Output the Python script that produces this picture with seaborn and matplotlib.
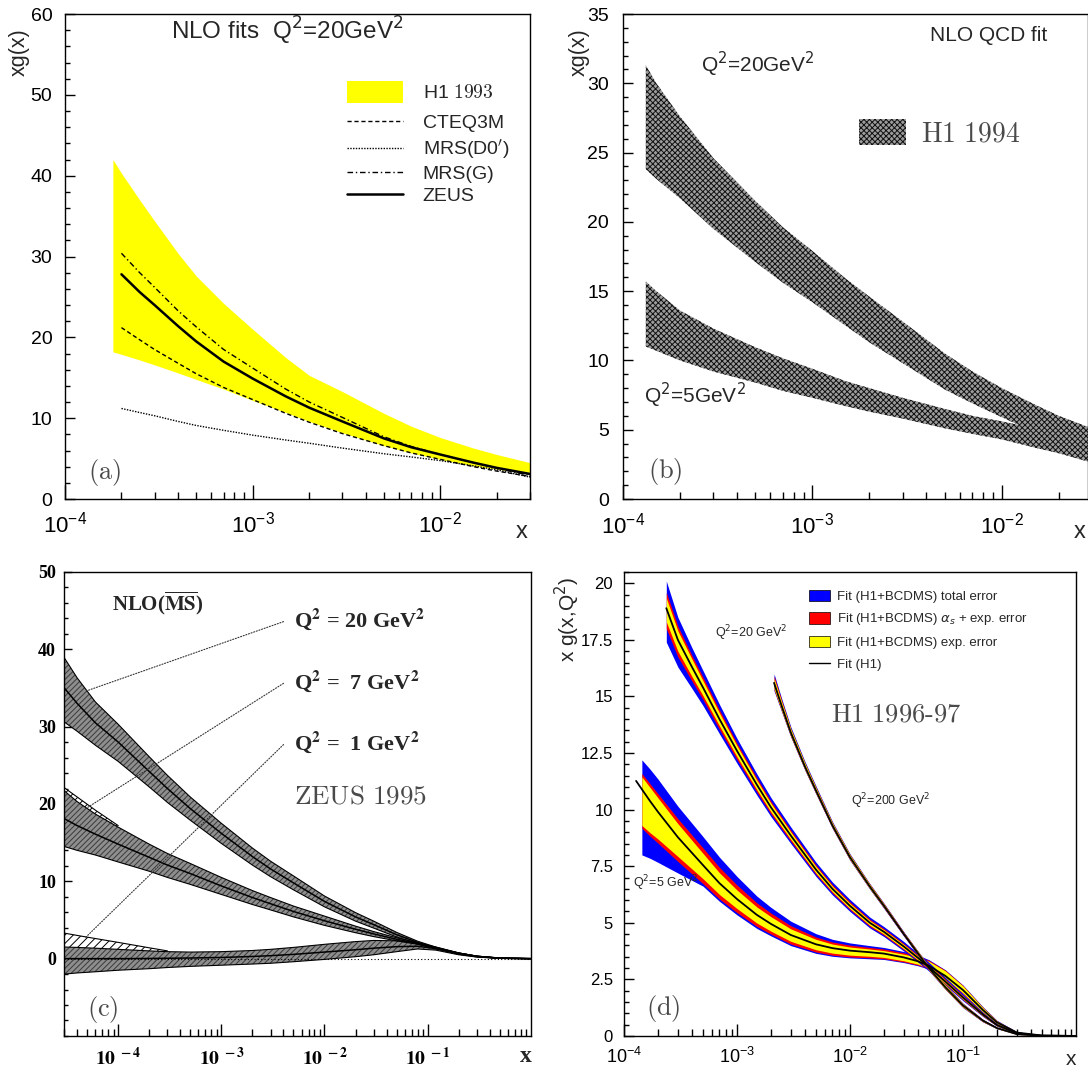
import numpy as np
import pandas as pd
import matplotlib
matplotlib.use("Agg")
import matplotlib.pyplot as plt
import seaborn as sns
from matplotlib.patches import Patch
from matplotlib.lines import Line2D
from matplotlib.ticker import (LogLocator, MultipleLocator, NullFormatter, FuncFormatter,
                               FixedLocator, LogFormatterSciNotation)

# ---------------- panel (a): NLO fits Q2=20 ----------------
a_band_x = [1.8e-4, 2e-4, 2.5e-4, 3e-4, 4e-4, 5e-4, 7e-4, 1e-3, 1.5e-3, 2e-3, 3e-3, 5e-3, 7e-3, 1e-2, 1.5e-2, 2e-2, 3e-2]
a_band_hi = [42.0, 40.3, 37.0, 34.4, 30.4, 27.6, 24.2, 21.0, 17.5, 15.3, 13.3, 10.6, 9.0, 7.6, 6.3, 5.5, 4.5]
a_band_lo = [18.2, 17.9, 17.2, 16.6, 15.6, 14.8, 13.6, 12.2, 10.7, 9.6, 8.2, 6.6, 5.7, 4.9, 4.1, 3.7, 3.1]
a_x = [2e-4, 2.5e-4, 3e-4, 4e-4, 5e-4, 7e-4, 1e-3, 1.5e-3, 2e-3, 3e-3, 5e-3, 7e-3, 1e-2, 1.5e-2, 2e-2, 3e-2]
a_zeus = [27.8, 25.6, 24.0, 21.4, 19.5, 17.0, 14.9, 12.7, 11.3, 9.6, 7.5, 6.4, 5.5, 4.5, 3.85, 3.1]
a_mrsg = [30.4, 28.0, 26.2, 23.3, 21.3, 18.5, 16.2, 13.6, 12.0, 10.1, 7.7, 6.5, 5.5, 4.5, 3.8, 2.9]
a_cteq = [21.2, 19.7, 18.5, 16.8, 15.5, 13.8, 12.3, 10.6, 9.5, 8.1, 6.6, 5.7, 4.9, 4.0, 3.45, 2.8]
a_mrsd0 = [11.2, 10.7, 10.3, 9.6, 9.1, 8.5, 7.9, 7.3, 6.9, 6.3, 5.6, 5.2, 4.75, 4.1, 3.6, 2.7]
a_labels = [r"H1 $\mathrm{1993}$", "CTEQ3M", "MRS(D0$'$)", "MRS(G)", "ZEUS"]

# ---------------- panel (b): H1 1994 ----------------
b_x = [1.32e-4, 1.5e-4, 2e-4, 3e-4, 5e-4, 7e-4, 1e-3, 1.5e-3, 2e-3, 3e-3, 5e-3, 7e-3, 1e-2, 1.5e-2, 2e-2, 2.85e-2]
b20_hi = [31.3, 30.0, 27.6, 24.6, 21.5, 19.6, 17.9, 15.9, 14.6, 12.8, 10.5, 9.2, 8.0, 6.8, 6.0, 5.2]
b20_lo = [23.8, 23.1, 21.7, 19.5, 17.1, 15.6, 14.2, 12.5, 11.3, 9.8, 7.9, 6.9, 5.9, 4.8, 4.0, 3.0]
b5_hi = [15.7, 15.0, 13.6, 12.3, 10.95, 10.15, 9.4, 8.5, 8.0, 7.3, 6.5, 6.0, 5.6, 5.1, 4.7, 4.2]
b5_lo = [11.0, 10.7, 10.0, 9.2, 8.4, 7.8, 7.3, 6.7, 6.3, 5.8, 5.1, 4.7, 4.3, 3.7, 3.3, 2.7]

# ---------------- panel (c): ZEUS 1995 ----------------
c_x = [3e-5, 4e-5, 6e-5, 1e-4, 2e-4, 3e-4, 5e-4, 1e-3, 2e-3, 3e-3, 5e-3, 1e-2, 2e-2, 3e-2, 5e-2, 0.08, 0.12, 0.2, 0.3, 0.5, 1.0]
c20_mid = [35.0, 33.0, 30.5, 28.0, 24.2, 22.0, 19.4, 16.2, 13.2, 11.6, 9.8, 7.4, 5.4, 4.4, 3.1, 2.1, 1.4, 0.7, 0.3, 0.06, 0.0]
c20_hi = [38.9, 36.3, 33.2, 30.3, 26.1, 23.7, 20.9, 17.5, 14.3, 12.6, 10.7, 8.1, 5.95, 4.85, 3.4, 2.25, 1.5, 0.75, 0.32, 0.07, 0.0]
c20_lo = [30.6, 29.4, 27.6, 25.5, 22.2, 20.2, 17.9, 14.9, 12.1, 10.6, 8.9, 6.7, 4.85, 3.95, 2.8, 1.95, 1.3, 0.65, 0.28, 0.05, 0.0]
c7_mid = [18.1, 17.2, 16.1, 14.8, 13.1, 12.1, 11.0, 9.4, 7.9, 7.1, 6.1, 4.9, 3.8, 3.2, 2.5, 1.95, 1.35, 0.7, 0.3, 0.06, 0.0]
c7_hi = [21.7, 20.3, 18.7, 17.0, 14.8, 13.6, 12.3, 10.5, 8.8, 7.9, 6.8, 5.5, 4.2, 3.5, 2.7, 2.05, 1.42, 0.73, 0.32, 0.07, 0.0]
c7_lo = [14.5, 14.0, 13.4, 12.5, 11.3, 10.5, 9.6, 8.3, 7.0, 6.3, 5.4, 4.3, 3.35, 2.85, 2.3, 1.85, 1.28, 0.67, 0.28, 0.05, 0.0]
c1_mid = [0.0, 0.0, 0.0, 0.0, 0.02, 0.05, 0.08, 0.15, 0.28, 0.38, 0.55, 0.85, 1.15, 1.35, 1.55, 1.6, 1.3, 0.6, 0.25, 0.05, 0.0]
c1_hi = [1.5, 1.45, 1.35, 1.2, 1.0, 0.9, 0.85, 0.9, 1.05, 1.2, 1.45, 1.85, 2.2, 2.35, 2.3, 2.0, 1.5, 0.7, 0.3, 0.06, 0.0]
c1_lo = [-2.0, -1.85, -1.7, -1.5, -1.3, -1.15, -1.0, -0.85, -0.7, -0.6, -0.4, -0.1, 0.25, 0.5, 0.9, 1.25, 1.1, 0.5, 0.2, 0.04, 0.0]
c1h_x = [3e-5, 4e-5, 6e-5, 1e-4, 2e-4, 3e-4]
c1h_hi = [3.3, 3.0, 2.6, 2.1, 1.4, 1.0]
c1h_lo = [1.5, 1.45, 1.35, 1.2, 1.0, 0.9]
c7h_x = [3e-5, 4e-5, 6e-5, 1e-4]
c7h_hi = [22.1, 20.9, 19.2, 17.2]
c7h_lo = [21.7, 20.3, 18.7, 17.0]
c_labels = ["Q$^{\\mathbf{2}}$ = 20 GeV$^{\\mathbf{2}}$", "Q$^{\\mathbf{2}}$ =  7 GeV$^{\\mathbf{2}}$",
            "Q$^{\\mathbf{2}}$ =  1 GeV$^{\\mathbf{2}}$"]

# ---------------- panel (d): H1 1996-97 ----------------
d5_x = [1.44e-4, 1.7e-4, 2e-4, 3e-4, 5e-4, 7e-4, 1e-3, 1.5e-3, 2e-3, 3e-3, 5e-3, 7e-3, 1e-2, 1.5e-2, 2e-2,
        3e-2, 4e-2, 5e-2, 7e-2, 0.1, 0.15, 0.2, 0.3, 0.5, 1.0]
d5_blue_hi = [12.2, 11.79, 11.35, 10.15, 8.81, 7.9, 7.05, 6.18, 5.68, 5.07, 4.52, 4.27, 4.11, 3.99, 3.91, 3.73, 3.57, 3.37, 2.92, 2.25, 1.29, 0.69, 0.19, 0.02, 0.0]
d5_red_hi = [11.6, 11.14, 10.7, 9.6, 8.31, 7.45, 6.67, 5.88, 5.43, 4.87, 4.37, 4.15, 4.01, 3.91, 3.84, 3.67, 3.52, 3.34, 2.9, 2.23, 1.27, 0.67, 0.18, 0.02, 0.0]
d5_yel_hi = [11.45, 10.98, 10.52, 9.38, 8.07, 7.21, 6.45, 5.7, 5.27, 4.73, 4.27, 4.06, 3.93, 3.84, 3.77, 3.61, 3.47, 3.3, 2.87, 2.21, 1.25, 0.66, 0.17, 0.02, 0.0]
d5_yel_lo = [9.3, 8.98, 8.7, 7.93, 6.95, 6.25, 5.63, 4.99, 4.63, 4.18, 3.81, 3.66, 3.57, 3.52, 3.47, 3.32, 3.17, 3.0, 2.53, 1.9, 1.05, 0.55, 0.13, 0.02, 0.0]
d5_red_lo = [9.18, 8.83, 8.52, 7.71, 6.73, 6.05, 5.45, 4.84, 4.5, 4.06, 3.71, 3.57, 3.49, 3.45, 3.41, 3.27, 3.13, 2.97, 2.5, 1.87, 1.03, 0.54, 0.12, 0.02, 0.0]
d5_blue_lo = [8.0, 7.85, 7.67, 7.2, 6.62, 5.95, 5.35, 4.75, 4.42, 3.99, 3.65, 3.52, 3.45, 3.41, 3.38, 3.24, 3.1, 2.95, 2.48, 1.85, 1.02, 0.53, 0.12, 0.02, 0.0]
d5_fit_x = [1.28e-4, 1.44e-4, 1.7e-4, 2e-4, 3e-4, 5e-4, 7e-4, 1e-3, 1.5e-3, 2e-3, 3e-3, 5e-3, 7e-3, 1e-2, 1.5e-2,
            2e-2, 3e-2, 4e-2, 5e-2, 7e-2, 0.1, 0.15, 0.2, 0.3, 0.5, 1.0]
d5_fit = [11.27, 10.9, 10.38, 9.9, 8.78, 7.55, 6.75, 6.05, 5.35, 4.95, 4.46, 4.05, 3.88, 3.77, 3.7, 3.64, 3.47, 3.3, 3.1, 2.65, 2.03, 1.15, 0.6, 0.15, 0.02, 0.0]

d20_x = [2.37e-4, 3e-4, 4e-4, 5e-4, 7e-4, 1e-3, 1.5e-3, 2e-3, 3e-3, 5e-3, 7e-3, 1e-2, 1.5e-2, 2e-2, 3e-2,
         4e-2, 5e-2, 7e-2, 0.1, 0.15, 0.2, 0.3, 0.5, 1.0]
d20_fit = [18.9, 17.5, 16.3, 15.4, 14.0, 12.6, 11.1, 10.1, 8.85, 7.35, 6.5, 5.75, 5.0, 4.6, 3.95, 3.45, 3.05, 2.4, 1.7, 0.95, 0.48, 0.12, 0.01, 0.0]
d20_blue_hi = [20.1, 18.5, 17.15, 16.15, 14.65, 13.15, 11.58, 10.53, 9.23, 7.68, 6.8, 6.03, 5.25, 4.83, 4.17, 3.65, 3.25, 2.58, 1.85, 1.05, 0.53, 0.14, 0.01, 0.0]
d20_red_hi = [19.6, 18.1, 16.8, 15.85, 14.4, 12.93, 11.39, 10.36, 9.08, 7.55, 6.68, 5.92, 5.15, 4.74, 4.08, 3.57, 3.17, 2.51, 1.79, 1.01, 0.51, 0.13, 0.01, 0.0]
d20_yel_hi = [19.35, 17.9, 16.65, 15.7, 14.27, 12.83, 11.3, 10.28, 9.01, 7.49, 6.62, 5.86, 5.1, 4.69, 4.04, 3.53, 3.13, 2.47, 1.76, 0.99, 0.5, 0.13, 0.01, 0.0]
d20_yel_lo = [18.3, 17.0, 15.88, 15.04, 13.7, 12.34, 10.88, 9.9, 8.68, 7.2, 6.37, 5.63, 4.89, 4.5, 3.85, 3.36, 2.96, 2.32, 1.63, 0.9, 0.45, 0.11, 0.01, 0.0]
d20_red_lo = [18.0, 16.75, 15.68, 14.87, 13.55, 12.22, 10.78, 9.81, 8.6, 7.14, 6.31, 5.58, 4.84, 4.45, 3.81, 3.32, 2.92, 2.29, 1.6, 0.88, 0.44, 0.11, 0.01, 0.0]
d20_blue_lo = [17.4, 16.3, 15.35, 14.6, 13.35, 12.05, 10.64, 9.69, 8.5, 7.05, 6.23, 5.5, 4.77, 4.39, 3.75, 3.26, 2.87, 2.24, 1.56, 0.86, 0.43, 0.1, 0.01, 0.0]

d200_x = [2.13e-3, 2.5e-3, 3e-3, 4e-3, 5e-3, 7e-3, 1e-2, 1.5e-2, 2e-2, 3e-2, 4e-2, 5e-2, 7e-2, 0.1, 0.15, 0.2, 0.3, 0.5, 1.0]
d200_fit = [15.6, 14.55, 13.4, 11.9, 10.85, 9.3, 7.9, 6.6, 5.75, 4.5, 3.65, 3.0, 2.15, 1.35, 0.68, 0.35, 0.08, 0.01, 0.0]
d200_blue_hi = [16.0, 14.87, 13.65, 12.12, 11.05, 9.47, 8.05, 6.73, 5.87, 4.6, 3.75, 3.12, 2.27, 1.45, 0.74, 0.38, 0.09, 0.01, 0.0]
d200_red_hi = [15.9, 14.8, 13.58, 12.06, 11.0, 9.43, 8.02, 6.71, 5.85, 4.58, 3.74, 3.1, 2.26, 1.43, 0.73, 0.37, 0.09, 0.01, 0.0]
d200_yel_hi = [15.8, 14.73, 13.55, 12.04, 10.97, 9.41, 8.0, 6.69, 5.83, 4.56, 3.73, 3.08, 2.25, 1.42, 0.72, 0.37, 0.09, 0.01, 0.0]
d200_yel_lo = [15.35, 14.35, 13.25, 11.77, 10.73, 9.2, 7.8, 6.51, 5.67, 4.44, 3.58, 2.92, 2.07, 1.28, 0.64, 0.33, 0.07, 0.01, 0.0]
d200_red_lo = [15.3, 14.32, 13.22, 11.75, 10.71, 9.18, 7.78, 6.5, 5.65, 4.42, 3.57, 2.9, 2.06, 1.27, 0.63, 0.33, 0.07, 0.01, 0.0]
d200_blue_lo = [15.25, 14.29, 13.2, 11.73, 10.69, 9.16, 7.76, 6.48, 5.63, 4.4, 3.55, 2.88, 2.05, 1.25, 0.62, 0.32, 0.07, 0.01, 0.0]
d_legend = ["Fit (H1+BCDMS) total error", "Fit (H1+BCDMS) $\\alpha_s$ + exp. error",
            "Fit (H1+BCDMS) exp. error", "Fit (H1)"]

# ---------------- style ----------------
sns.set_theme(style="white")
plt.rcParams["font.family"] = ["Liberation Sans", "DejaVu Sans"]
plt.rcParams["hatch.linewidth"] = 0.7
plt.rcParams["axes.unicode_minus"] = False

fig = plt.figure(figsize=(10.88, 10.78), dpi=100)
axA = fig.add_axes([0.0597, 0.5371, 0.4274, 0.4499])
axB = fig.add_axes([0.5726, 0.5371, 0.4274, 0.4499])
axC = fig.add_axes([0.0591, 0.0390, 0.4287, 0.4304])
axD = fig.add_axes([0.5735, 0.0390, 0.4154, 0.4304])

GRAY = "#4a4a4a"


def root_style(ax, maj=7, mnr=3.5, labelsize=14, pad=6):
    for s in ax.spines.values():
        s.set_visible(True)
        s.set_color("black")
        s.set_linewidth(1.0)
    ax.tick_params(which="both", direction="in", top=False, right=False,
                   left=True, bottom=True, colors="black", width=1.0)
    ax.tick_params(which="major", length=maj, labelsize=labelsize, pad=pad)
    ax.tick_params(which="minor", length=mnr)
    ax.grid(False)
    ax.set_xlabel("")
    ax.set_ylabel("")


def log_x(ax, majors, xlabelsize):
    ax.set_xscale("log")
    ax.xaxis.set_major_locator(FixedLocator(majors))
    ax.xaxis.set_major_formatter(LogFormatterSciNotation())
    ax.xaxis.set_minor_locator(LogLocator(base=10, subs=np.arange(2, 10), numticks=20))
    ax.xaxis.set_minor_formatter(NullFormatter())
    ax.tick_params(axis="x", which="major", length=10, labelsize=xlabelsize)
    ax.tick_params(axis="x", which="minor", length=5)


def line(ax, x, y, **kw):
    sns.lineplot(x=x, y=y, ax=ax, sort=False, estimator=None, legend=False, **kw)


# ======== (a) ========
ax = axA
ax.set_xscale("log")
ax.fill_between(a_band_x, a_band_lo, a_band_hi, color="#ffff00", lw=0)
line(ax, a_x, a_cteq, color="black", lw=1.0, linestyle=(0, (3, 2)))
line(ax, a_x, a_mrsd0, color="black", lw=1.0, linestyle=(0, (1, 1)))
line(ax, a_x, a_mrsg, color="black", lw=1.0, linestyle=(0, (4, 2, 1, 2)))
line(ax, a_x, a_zeus, color="black", lw=1.8)
ax.set_xlim(1e-4, 3e-2)
ax.set_ylim(0, 60)
root_style(ax, pad=9)
ax.yaxis.set_major_locator(MultipleLocator(10))
ax.yaxis.set_minor_locator(MultipleLocator(2))
log_x(ax, [1e-4, 1e-3, 1e-2], 16)
ax.text(0.478, 0.965, "NLO fits  Q$^2$=20GeV$^2$", transform=ax.transAxes,
        ha="center", va="center", fontsize=17.5)
ax.text(0.085, 0.055, r"$\mathrm{(a)}$", transform=ax.transAxes, ha="center", va="center",
        fontsize=19, color=GRAY, math_fontfamily="cm")
ax.text(-0.099, 0.922, "xg(x)", transform=ax.transAxes, rotation=90, ha="center", va="center", fontsize=15.5)
ax.text(0.983, -0.068, "x", transform=ax.transAxes, ha="center", va="center", fontsize=17)
leg1 = ax.legend([Patch(facecolor="#ffff00", edgecolor="none")], a_labels[:1], loc="upper left",
                 bbox_to_anchor=(0.606, 0.862), frameon=False, fontsize=14, handlelength=2.9,
                 handleheight=1.35, handletextpad=1.0, borderaxespad=0, borderpad=0)
leg1.get_texts()[0].set_math_fontfamily("cm")
ax.add_artist(leg1)
hA = [Line2D([], [], color="black", lw=1.0, linestyle=(0, (3, 2))),
      Line2D([], [], color="black", lw=1.0, linestyle=(0, (1, 1))),
      Line2D([], [], color="black", lw=1.0, linestyle=(0, (4, 2, 1, 2))),
      Line2D([], [], color="black", lw=1.8)]
ax.legend(hA, a_labels[1:], loc="upper left", bbox_to_anchor=(0.606, 0.793), frameon=False,
          fontsize=14, handlelength=2.9, handleheight=0.7, handletextpad=1.0,
          labelspacing=0.24, borderaxespad=0, borderpad=0)

# ======== (b) ========
ax = axB
ax.set_xscale("log")
hatch_kw = dict(facecolor="#9c9c9c", edgecolor="#111111", hatch="xxxxxx", lw=0)
ax.fill_between(b_x, b20_lo, b20_hi, **hatch_kw)
ax.fill_between(b_x, b5_lo, b5_hi, **hatch_kw)
ax.set_xlim(1e-4, 0.0285)
ax.set_ylim(0, 35)
root_style(ax, pad=10)
ax.yaxis.set_major_locator(MultipleLocator(5))
ax.yaxis.set_minor_locator(MultipleLocator(1))
log_x(ax, [1e-4, 1e-3, 1e-2], 16)
ax.text(0.787, 0.956, "NLO QCD fit", transform=ax.transAxes, ha="center", va="center", fontsize=15)
ax.text(0.29, 0.897, "Q$^2$=20GeV$^2$", transform=ax.transAxes, ha="center", va="center", fontsize=15)
ax.text(0.154, 0.213, "Q$^2$=5GeV$^2$", transform=ax.transAxes, ha="center", va="center", fontsize=15)
ax.text(0.09, 0.057, r"$\mathrm{(b)}$", transform=ax.transAxes, ha="center", va="center",
        fontsize=19, color=GRAY, math_fontfamily="cm")
ax.text(-0.095, 0.922, "xg(x)", transform=ax.transAxes, rotation=90, ha="center", va="center", fontsize=15.5)
ax.text(0.983, -0.068, "x", transform=ax.transAxes, ha="center", va="center", fontsize=17)
legB = ax.legend([Patch(**hatch_kw)], [r"$\mathrm{H1\ 1994}$"], loc="upper left",
                 bbox_to_anchor=(0.507, 0.784), frameon=False, fontsize=20, handlelength=1.7,
                 handleheight=1.1, handletextpad=0.55, borderaxespad=0, borderpad=0)
legB.get_texts()[0].set_math_fontfamily("cm")
legB.get_texts()[0].set_color(GRAY)

# ======== (c) ========
ax = axC
ax.set_xscale("log")
band_c = dict(facecolor="#8e8e8e", edgecolor="#3a3a3a", hatch="//////", lw=0)
ax.axhline(0, color="black", lw=0.8, linestyle=(0, (1, 2)))
ax.fill_between(c1h_x, c1h_lo, c1h_hi, facecolor="white", edgecolor="black", hatch="////", lw=0)
ax.fill_between(c7h_x, c7h_lo, c7h_hi, facecolor="white", edgecolor="black", hatch="////", lw=0)
for hi, lo, mid in [(c20_hi, c20_lo, c20_mid), (c7_hi, c7_lo, c7_mid), (c1_hi, c1_lo, c1_mid)]:
    ax.fill_between(c_x, lo, hi, **band_c)
    line(ax, c_x, hi, color="black", lw=0.8)
    line(ax, c_x, lo, color="black", lw=0.8)
    line(ax, c_x, mid, color="black", lw=1.1)
line(ax, c1h_x, c1h_hi, color="black", lw=0.8)
line(ax, c7h_x, c7h_hi, color="black", lw=0.8)
ax.set_xlim(3e-5, 1.0)
ax.set_ylim(-10, 50)
root_style(ax, maj=6, mnr=3, labelsize=13, pad=6)
ax.yaxis.set_major_locator(FixedLocator([0, 10, 20, 30, 40, 50]))
ax.yaxis.set_minor_locator(MultipleLocator(2))
ax.xaxis.set_major_locator(FixedLocator([1e-4, 1e-3, 1e-2, 1e-1]))
ax.xaxis.set_minor_locator(LogLocator(base=10, subs=np.arange(2, 10), numticks=20))
ax.xaxis.set_minor_formatter(NullFormatter())
ax.set_xticklabels([r"$\mathbf{10^{\ -4}}$", r"$\mathbf{10^{\ -3}}$", r"$\mathbf{10^{\ -2}}$", r"$\mathbf{10^{\ -1}}$"])
for t in ax.get_xticklabels():
    t.set_math_fontfamily("stix")
    t.set_fontsize(14)
ax.set_yticklabels(["0", "10", "20", "30", "40", "50"])
for t in ax.get_yticklabels():
    t.set_fontfamily("Liberation Serif")
    t.set_fontweight("bold")
ax.tick_params(axis="x", which="major", length=9, pad=8)
ax.tick_params(axis="x", which="minor", length=5)
lab_y = [0.897, 0.764, 0.632]
ends = [(0.0485, 0.744), (0.0485, 0.4916), (0.0448, 0.2115)]
for lab, yy, (ex, ey) in zip(c_labels, lab_y, ends):
    ax.text(0.4925, yy, lab, transform=ax.transAxes, ha="left", va="center", fontsize=16,
            fontfamily="Liberation Serif", fontweight="bold", math_fontfamily="stix")
    ax.annotate("", xy=(ex, ey), xytext=(0.47, yy - 0.004), xycoords="axes fraction",
                arrowprops=dict(arrowstyle="-", linestyle=(0, (1, 1.5)), lw=0.8, color="#333333",
                                shrinkA=0, shrinkB=0))
ax.text(0.1016, 0.9325, r"NLO($\mathbf{\overline{MS}}$)", transform=ax.transAxes, ha="left", va="center",
        fontsize=15, fontfamily="Liberation Serif", fontweight="bold", math_fontfamily="stix")
ax.text(0.4925, 0.517, r"$\mathrm{ZEUS\ 1995}$", transform=ax.transAxes, ha="left", va="center",
        fontsize=19.5, color=GRAY, math_fontfamily="cm")
ax.text(0.082, 0.057, r"$\mathrm{(c)}$", transform=ax.transAxes, ha="center", va="center",
        fontsize=19, color=GRAY, math_fontfamily="cm")
ax.text(0.989, -0.045, "x", transform=ax.transAxes, ha="center", va="center", fontsize=17,
        fontfamily="Liberation Serif", fontweight="bold")

# ======== (d) ========
ax = axD
ax.set_xscale("log")
BLUE, RED, YEL = "#0000ff", "#ff0000", "#ffff00"
for xs, bh, rh, yh, yl, rl, bl in [
        (d5_x, d5_blue_hi, d5_red_hi, d5_yel_hi, d5_yel_lo, d5_red_lo, d5_blue_lo),
        (d20_x, d20_blue_hi, d20_red_hi, d20_yel_hi, d20_yel_lo, d20_red_lo, d20_blue_lo),
        (d200_x, d200_blue_hi, d200_red_hi, d200_yel_hi, d200_yel_lo, d200_red_lo, d200_blue_lo)]:
    ax.fill_between(xs, bl, bh, color=BLUE, lw=0)
    ax.fill_between(xs, rl, rh, color=RED, lw=0)
    ax.fill_between(xs, yl, yh, color=YEL, lw=0)
line(ax, d5_fit_x, d5_fit, color="black", lw=1.3)
line(ax, d20_x, d20_fit, color="black", lw=1.3)
line(ax, d200_x, d200_fit, color="black", lw=1.3)
ax.set_xlim(1e-4, 1.0)
ax.set_ylim(0, 20.5)
root_style(ax, maj=7, mnr=3.5, labelsize=12, pad=8)
ax.yaxis.set_major_locator(MultipleLocator(2.5))
ax.yaxis.set_minor_locator(MultipleLocator(0.5))
ax.yaxis.set_major_formatter(FuncFormatter(lambda v, p: f"{v:g}"))
log_x(ax, [1e-4, 1e-3, 1e-2, 1e-1], 13)
ax.tick_params(axis="x", which="major", length=9)
hD = [Patch(facecolor=BLUE, edgecolor="black", lw=0.5), Patch(facecolor=RED, edgecolor="black", lw=0.5),
      Patch(facecolor=YEL, edgecolor="black", lw=0.5), Line2D([], [], color="black", lw=1.0)]
ax.legend(hD, d_legend, loc="upper left", bbox_to_anchor=(0.41, 0.962), frameon=False, fontsize=9.5,
          handlelength=1.55, handleheight=0.95, handletextpad=0.55, labelspacing=0.65,
          borderaxespad=0, borderpad=0)
ax.text(0.2015, 0.869, "Q$^2$=20 GeV$^2$", transform=ax.transAxes, ha="left", va="center", fontsize=9)
ax.text(0.5015, 0.507, "Q$^2$=200 GeV$^2$", transform=ax.transAxes, ha="left", va="center", fontsize=9)
ax.text(0.021, 0.33, "Q$^2$=5 GeV$^2$", transform=ax.transAxes, ha="left", va="center", fontsize=9)
ax.text(0.459, 0.692, r"$\mathrm{H1\ 1996\text{-}97}$", transform=ax.transAxes, ha="left", va="center",
        fontsize=19, color=GRAY, math_fontfamily="cm")
ax.text(0.086, 0.06, r"$\mathrm{(d)}$", transform=ax.transAxes, ha="center", va="center",
        fontsize=19, color=GRAY, math_fontfamily="cm")
ax.text(-0.125, 0.898, "x g(x,Q$^2$)", transform=ax.transAxes, rotation=90, ha="center", va="center", fontsize=15)
ax.text(0.99, -0.05, "x", transform=ax.transAxes, ha="center", va="center", fontsize=15)

fig.savefig("out.png", dpi=100, facecolor="white")
